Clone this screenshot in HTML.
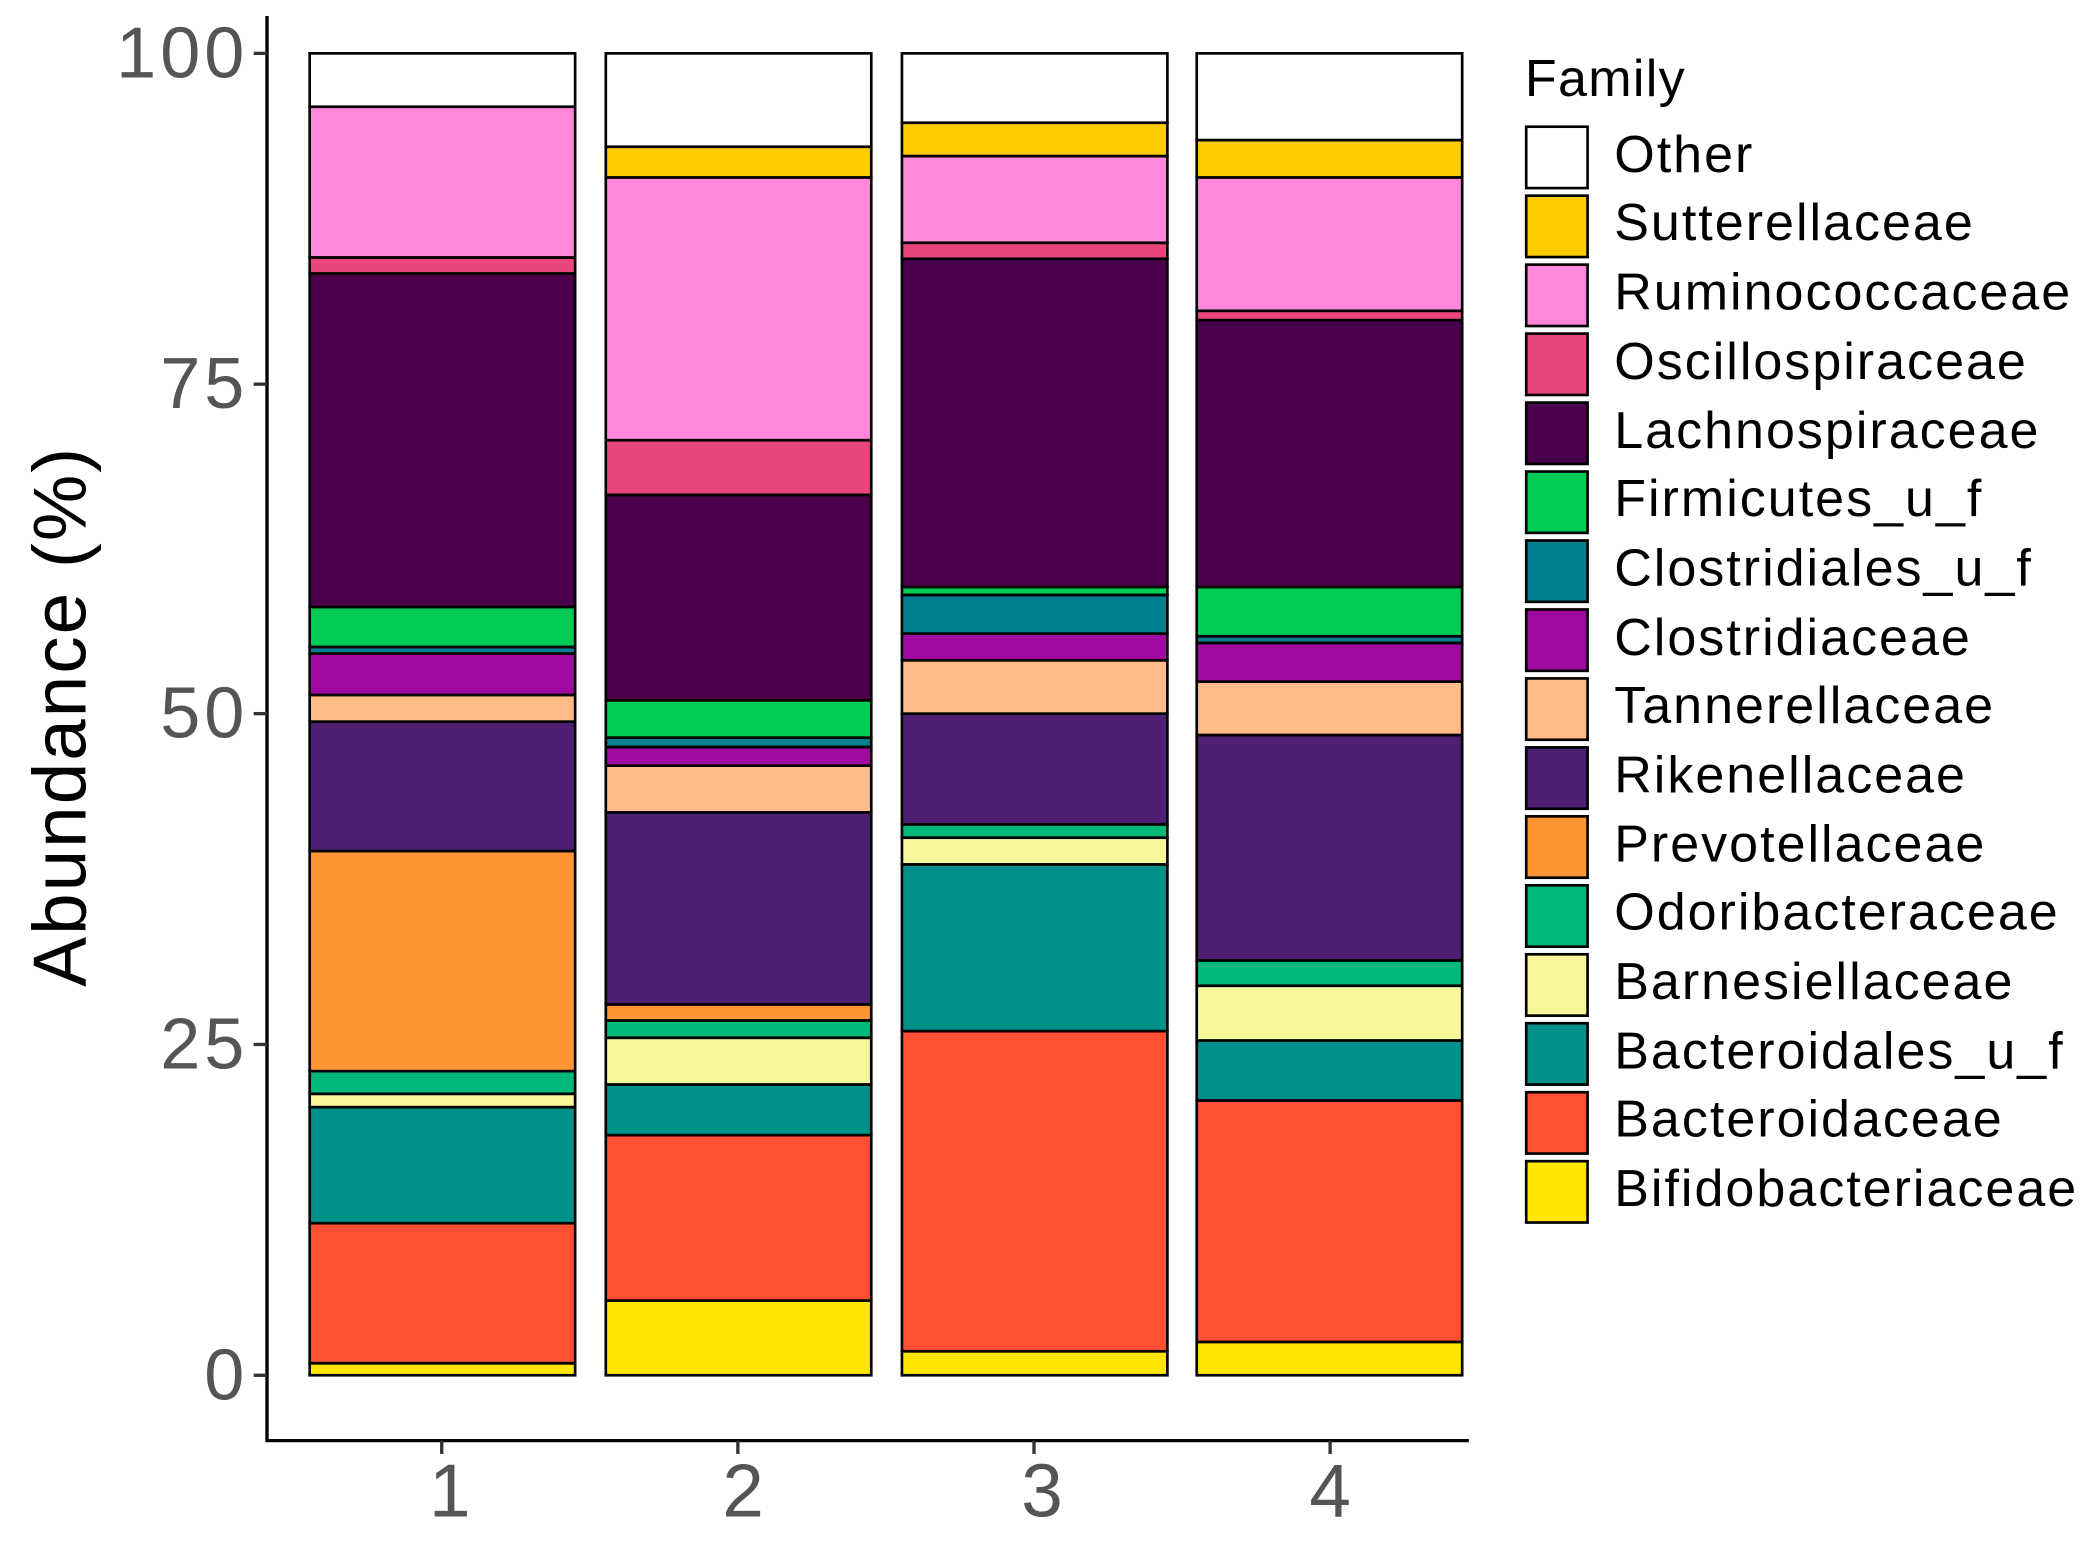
<!DOCTYPE html>
<html><head><meta charset="utf-8"><style>
html,body{margin:0;padding:0;background:#fff;}
svg{display:block;font-family:"Liberation Sans",sans-serif;}
</style></head><body>
<svg id="s" width="2092" height="1542" viewBox="0 0 1568 1156" xmlns="http://www.w3.org/2000/svg">
<rect width="1568" height="1156" fill="#fff"/>
<g id="bars"></g>
<line x1="200" y1="12" x2="200" y2="1081" stroke="#000" stroke-width="2.5"/>
<line x1="199" y1="1080" x2="1101" y2="1080" stroke="#000" stroke-width="2.5"/>
<g stroke="#333" stroke-width="2.5">
<line x1="190" y1="40" x2="200" y2="40"/><line x1="190" y1="288" x2="200" y2="288"/>
<line x1="190" y1="535" x2="200" y2="535"/><line x1="190" y1="783" x2="200" y2="783"/>
<line x1="190" y1="1031" x2="200" y2="1031"/>
<line x1="331" y1="1080" x2="331" y2="1090"/><line x1="553" y1="1080" x2="553" y2="1090"/>
<line x1="775" y1="1080" x2="775" y2="1090"/><line x1="997" y1="1080" x2="997" y2="1090"/>
</g>
<g fill="#555" font-size="54" text-anchor="end" letter-spacing="3">
<text x="186" y="58">100</text><text x="186" y="306">75</text><text x="186" y="553">50</text>
<text x="186" y="801">25</text><text x="186" y="1049">0</text>
</g>
<g fill="#555" font-size="56" text-anchor="middle">
<text x="337" y="1137">1</text><text x="557" y="1137">2</text><text x="781" y="1137">3</text><text x="997" y="1137">4</text>
</g>
<text transform="translate(64,537) rotate(-90)" font-size="56" text-anchor="middle" fill="#000" letter-spacing="1.5">Abundance (%)</text>
<text x="1143" y="72" font-size="39" fill="#000" letter-spacing="1">Family</text>
<g id="leg"></g>
<g font-size="39" fill="#000" letter-spacing="1.5">
<text x="1210" y="129">Other</text>
<text x="1210" y="180">Sutterellaceae</text>
<text x="1210" y="232">Ruminococcaceae</text>
<text x="1210" y="284">Oscillospiraceae</text>
<text x="1210" y="336">Lachnospiraceae</text>
<text x="1210" y="387">Firmicutes_u_f</text>
<text x="1210" y="439">Clostridiales_u_f</text>
<text x="1210" y="491">Clostridiaceae</text>
<text x="1210" y="542">Tannerellaceae</text>
<text x="1210" y="594">Rikenellaceae</text>
<text x="1210" y="646">Prevotellaceae</text>
<text x="1210" y="697">Odoribacteraceae</text>
<text x="1210" y="749">Barnesiellaceae</text>
<text x="1210" y="801">Bacteroidales_u_f</text>
<text x="1210" y="852">Bacteroidaceae</text>
<text x="1210" y="904">Bifidobacteriaceae</text>
</g>
</svg>
<script>
var C=["#FFE600","#FF5033","#00918A","#F8F89A","#00B877","#FF9633","#4F1F73","#FFBB88","#A00AA0","#00808F","#00CC55","#4B004B","#E8467C","#FF88DD","#FFCC00","#FFFFFF"];
var B=[[232,[1022,917,830,820,803,638,541,521,490,485,455,205,193,80,80,40]],
[454,[975,851,813,778,765,753,609,574,560,553,525,371,330,133,110,40]],
[676,[1013,773,648,628,618,618,535,495,475,446,440,194,182,117,92,40]],
[897,[1006,825,780,739,720,720,551,511,482,477,440,240,233,133,105,40]]];
var ns="http://www.w3.org/2000/svg",g=document.getElementById("bars");
B.forEach(function(b){var prev=1031;b[1].forEach(function(t,i){if(prev-t>0.1){var r=document.createElementNS(ns,"rect");
r.setAttribute("x",b[0]);r.setAttribute("y",t);r.setAttribute("width",199);r.setAttribute("height",prev-t);
r.setAttribute("fill",C[i]);r.setAttribute("stroke","#000");r.setAttribute("stroke-width","2");g.appendChild(r);}prev=t;});});
var L=document.getElementById("leg");
for(var i=0;i<16;i++){var r=document.createElementNS(ns,"rect");r.setAttribute("x",1144);r.setAttribute("y",95+i*51.7);
r.setAttribute("width",46);r.setAttribute("height",46);r.setAttribute("fill",C[15-i]);r.setAttribute("stroke","#000");r.setAttribute("stroke-width","2");L.appendChild(r);}
</script>
</body></html>
